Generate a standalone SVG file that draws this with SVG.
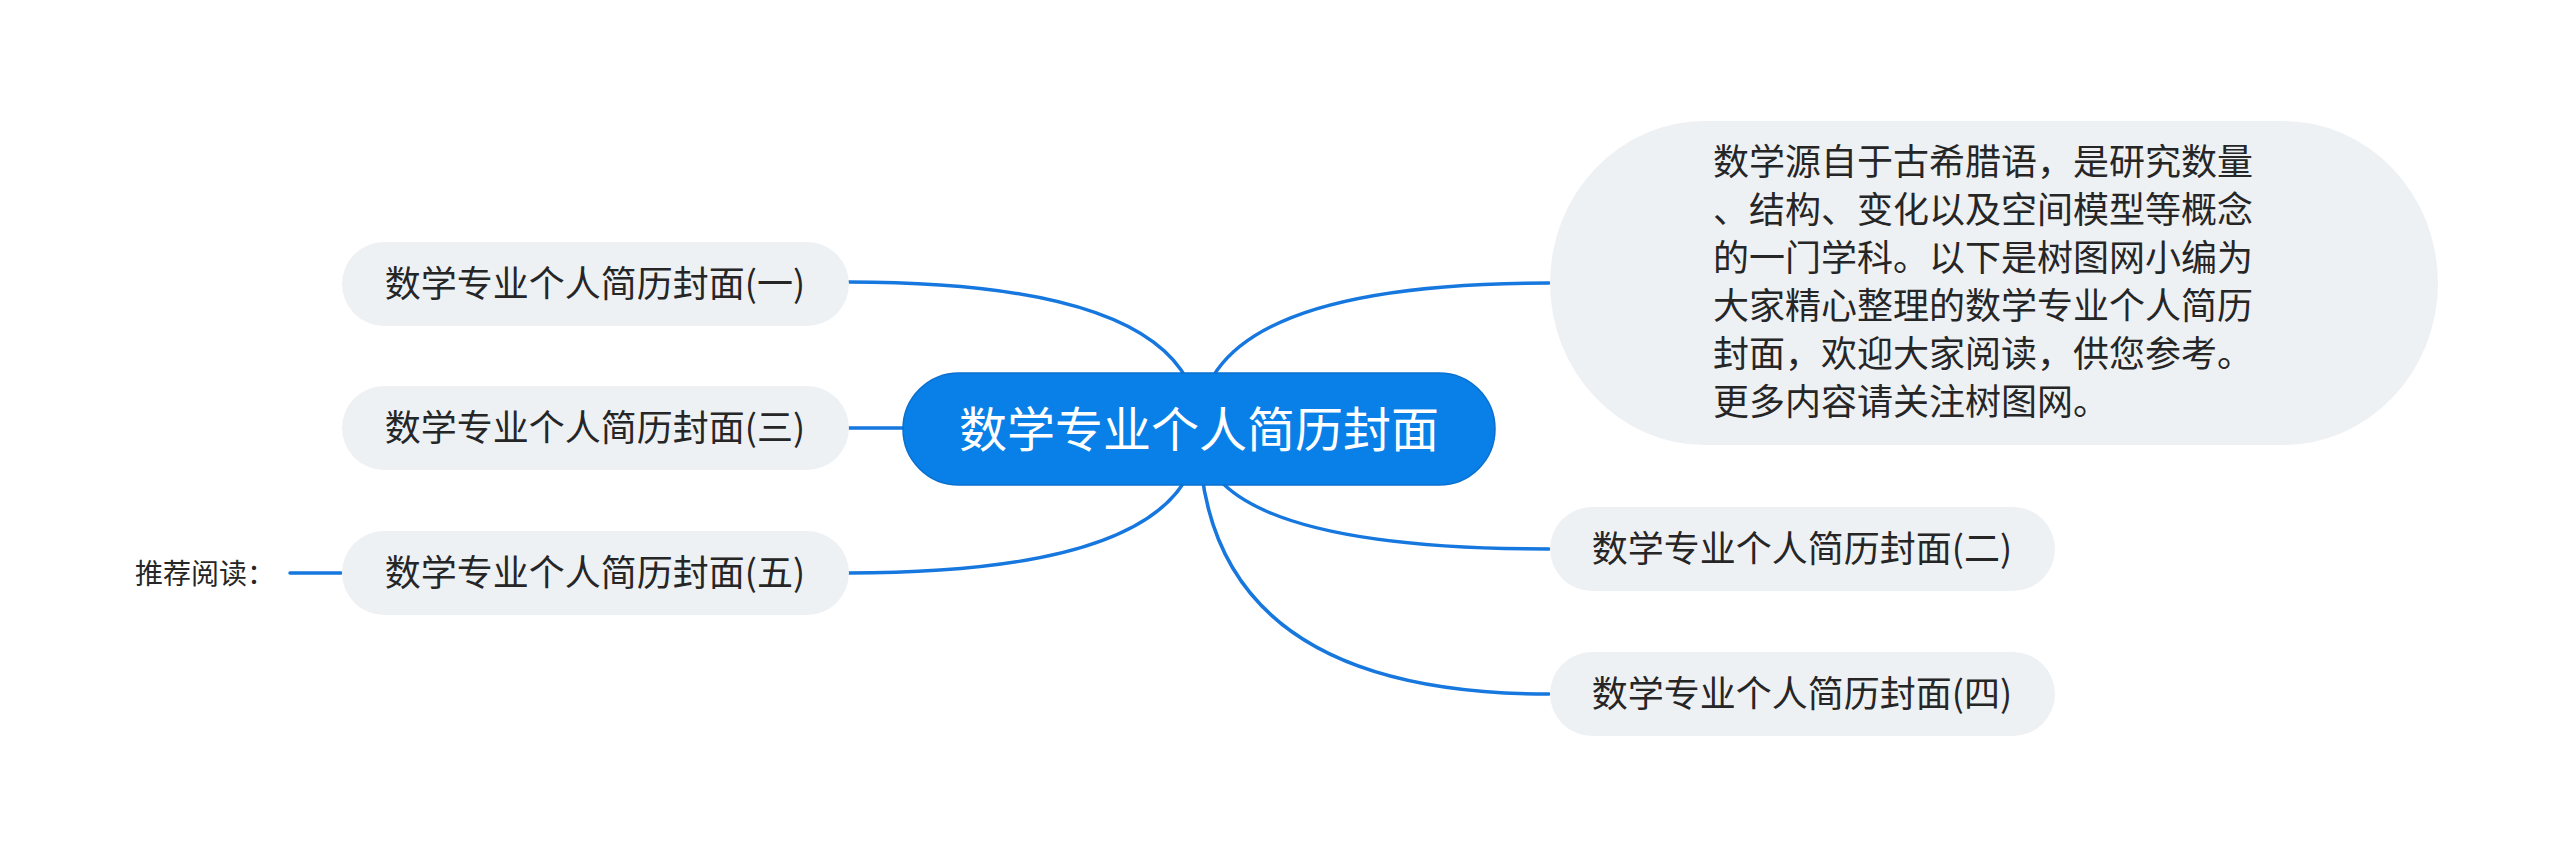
<svg xmlns="http://www.w3.org/2000/svg" width="2560" height="857" viewBox="0 0 2560 857">
<style>
.bg{fill:#ffffff}
.link{fill:none;stroke:#1677de;stroke-width:3.5;stroke-linecap:round}
.sub{fill:#eef1f4}
.t{font-family:"Noto Sans CJK SC","Noto Sans",sans-serif;fill:#262626}
.st{font-size:36px;text-anchor:middle}
.root{fill:#0880e8;stroke:#0a70cf;stroke-width:1.5}
.rt{font-family:"Noto Sans CJK SC","Noto Sans",sans-serif;font-size:48px;fill:#ffffff;text-anchor:middle}
</style>
<rect class="bg" x="0" y="0" width="2560" height="857"/>
<g id="connectors">
<path class="link" d="M1199 429 Q1199 283 1549 283"/>
<path class="link" d="M1199 429 Q1199 549 1549 549"/>
<path class="link" d="M1199 429 Q1199 694 1549 694"/>
<path class="link" d="M1199 429 Q1199 282 848 282"/>
<path class="link" d="M1199 428 L848 428"/>
<path class="link" d="M1199 429 Q1199 573 848 573"/>
<path class="link" d="M290 573 L341 573"/>
</g>
<g id="root">
<rect class="root" x="903" y="373" width="592" height="112" rx="56" ry="56"/>
<text class="rt" x="1199" y="447">数学专业个人简历封面</text>
</g>
<g id="desc">
<rect class="sub" x="1550" y="121" width="888" height="324" rx="155" ry="162"/>
<text class="t" font-size="36" x="1713">
<tspan x="1713" y="175">数学源自于古希腊语，是研究数量</tspan>
<tspan x="1713" y="223">、结构、变化以及空间模型等概念</tspan>
<tspan x="1713" y="271">的一门学科。以下是树图网小编为</tspan>
<tspan x="1713" y="319">大家精心整理的数学专业个人简历</tspan>
<tspan x="1713" y="367">封面，欢迎大家阅读，供您参考。</tspan>
<tspan x="1713" y="415">更多内容请关注树图网。</tspan>
</text>
</g>
<g id="n2">
<rect class="sub" x="1550" y="507" width="505" height="84" rx="42"/>
<text class="t st" x="1802" y="562">数学专业个人简历封面(二)</text>
</g>
<g id="n4">
<rect class="sub" x="1550" y="652" width="505" height="84" rx="42"/>
<text class="t st" x="1802" y="707">数学专业个人简历封面(四)</text>
</g>
<g id="n1">
<rect class="sub" x="342" y="242" width="507" height="84" rx="42"/>
<text class="t st" x="595" y="297">数学专业个人简历封面(一)</text>
</g>
<g id="n3">
<rect class="sub" x="342" y="386" width="507" height="84" rx="42"/>
<text class="t st" x="595" y="441">数学专业个人简历封面(三)</text>
</g>
<g id="n5">
<rect class="sub" x="342" y="531" width="507" height="84" rx="42"/>
<text class="t st" x="595" y="586">数学专业个人简历封面(五)</text>
</g>
<g id="rec">
<text class="t" font-size="28" x="135" y="584">推荐阅读：</text>
</g>
</svg>
